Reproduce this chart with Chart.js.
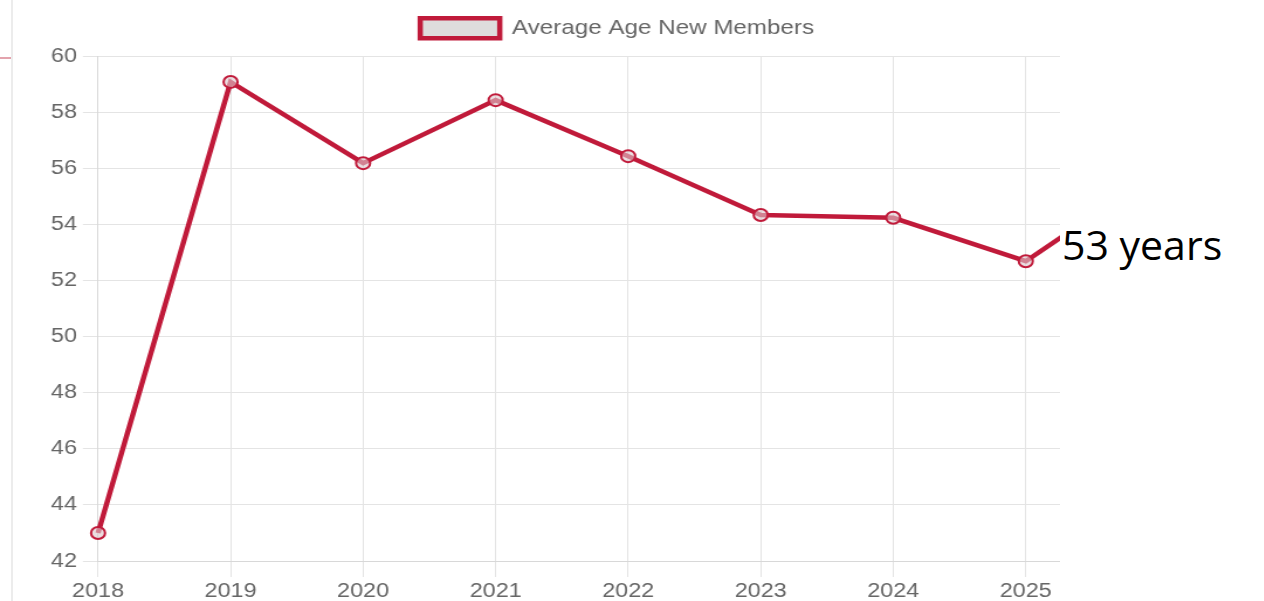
<!DOCTYPE html>
<html>
<head>
<meta charset="utf-8">
<script src="https://cdn.jsdelivr.net/npm/chart.js@4.4.1/dist/chart.umd.min.js"></script>
<style>
  html, body { margin: 0; padding: 0; background: #fff; }
  body { width: 1264px; height: 601px; position: relative; overflow: hidden; }
  #clip { position: absolute; left: 0; top: 0; width: 1060px; height: 601px; overflow: hidden; }
  #wrap { position: absolute; left: 0; top: 0; width: 1118px; height: 605px; transform: scaleX(1.17); transform-origin: 0 0; }
  #edge { position: absolute; left: 11px; top: 0; width: 2px; height: 601px; background: #ececec; }
  #redDash { position: absolute; left: 0; top: 57px; width: 11px; height: 2px; background: #e3a3ad; }
  #note { position: absolute; left: 1062px; top: 216px; font-family: "Open Sans", sans-serif; font-size: 41px; color: #000; white-space: nowrap; }
</style>
</head>
<body>
<div id="clip">
  <div id="wrap"><canvas id="myChart"></canvas></div>
</div>
<div id="edge"></div>
<div id="redDash"></div>
<div id="note">53 years</div>

<script>
// данные
const years = ["2018", "2019", "2020", "2021", "2022", "2023", "2024", "2025", "2026"];
const avgAge = [43.0, 59.1, 56.2, 58.45, 56.45, 54.35, 54.25, 52.7, 55.9];
const yTicksMin = 42;
const yTicksMax = 60;
const yStep = 2;

const lineColor = "#c01a3a";
const fillColor = "#dedcdc";
const textColor = "#666";

// отступ под легендой и сдвиг легенды вправо
const legendTweak = {
  id: "legendTweak",
  beforeInit(chart) {
    const fit = chart.legend.fit;
    chart.legend.fit = function () {
      fit.bind(chart.legend)();
      this.height += 8;
    };
  },
  afterLayout(chart) {
    chart.legend.left += 32.5;
    chart.legend.right += 32.5;
  }
};

let ctx = document.getElementById("myChart").getContext("2d");
let ageChart = new Chart(ctx, {
  type: "line",
  data: {
    labels: years,
    datasets: [{
      label: "Average Age New Members",
      data: avgAge,
      borderColor: lineColor,
      backgroundColor: fillColor,
      borderWidth: 4.5,
      pointRadius: 6,
      pointBorderWidth: 2,
      pointBackgroundColor: "rgba(222,200,205,0.6)",
      pointBorderColor: lineColor,
      tension: 0,
      fill: false
    }]
  },
  options: {
    responsive: true,
    maintainAspectRatio: false,
    animation: false,
    layout: { padding: { top: 8, left: 0, right: 128, bottom: 0 } },
    plugins: {
      legend: {
        position: "top",
        labels: {
          boxWidth: 68,
          boxHeight: 20,
          padding: 10,
          color: textColor,
          font: { family: "Liberation Sans, Arial, sans-serif", size: 20.7 }
        }
      },
      tooltip: { enabled: false }
    },
    scales: {
      x: {
        grid: { color: "#e4e4e4", tickLength: 16, lineWidth: 1 },
        border: { color: "#d8d8d8" },
        ticks: {
          color: textColor,
          padding: 2,
          maxRotation: 0,
          autoSkip: false,
          font: { family: "Liberation Sans, Arial, sans-serif", size: 20 }
        }
      },
      y: {
        min: yTicksMin,
        max: yTicksMax,
        grid: { color: "#e4e4e4", tickLength: 13 },
        border: { color: "#d8d8d8" },
        ticks: {
          stepSize: yStep,
          color: textColor,
          padding: 5,
          font: { family: "Liberation Sans, Arial, sans-serif", size: 20 }
        },
        afterFit(scale) { scale.width = 83.8; }
      }
    }
  },
  plugins: [legendTweak]
});
</script>
</body>
</html>
